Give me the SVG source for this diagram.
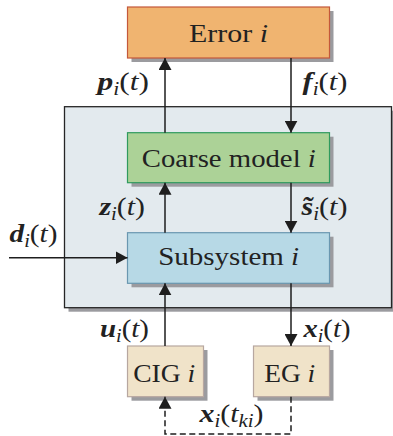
<svg xmlns="http://www.w3.org/2000/svg" width="393" height="436" viewBox="0 0 393 436">
<defs>
<style>
text{font-family:"Liberation Serif","Times New Roman",serif;fill:#222;}
.bt{font-size:26px;text-anchor:middle;}
.lb{font-size:26px;}
.it{font-style:italic;}
.bi{font-style:italic;font-weight:bold;}
.sub{font-size:18px;font-style:italic;font-weight:normal;}
.shadow{fill:#9b9b9f;}
.conn{stroke:#1e1e1e;stroke-width:1.5;fill:none;}
.dash{stroke-dasharray:6,3.5;}
</style>
<marker id="ah" markerUnits="userSpaceOnUse" markerWidth="13" markerHeight="13" refX="12" refY="6.5" orient="auto">
<path d="M0,0 L12,6.5 L0,13 Z" fill="#1e1e1e"/>
</marker>
</defs>
<rect width="393" height="436" fill="#ffffff"/>

<g id="container">
<rect x="68.5" y="110.7" width="330" height="201" class="shadow"/>
<rect x="64.5" y="106.7" width="327" height="201" fill="#e3eaee" stroke="#262626" stroke-width="1.3"/>
</g>

<g id="error">
<rect x="131.5" y="11" width="202" height="51" class="shadow"/>
<rect x="127.5" y="7" width="202" height="51" fill="#f0b470" stroke="#c4583a" stroke-width="1.2"/>
<text class="bt" x="228.5" y="42.3" textLength="79" lengthAdjust="spacingAndGlyphs">Error <tspan class="it">i</tspan></text>
</g>

<g id="coarse">
<rect x="131.5" y="136.7" width="202" height="50" class="shadow"/>
<rect x="127.5" y="132.7" width="202" height="50" fill="#acd297" stroke="#2f9a5e" stroke-width="1.2"/>
<text class="bt" x="228.8" y="167" textLength="174" lengthAdjust="spacingAndGlyphs">Coarse model <tspan class="it">i</tspan></text>
</g>

<g id="subsystem">
<rect x="131.5" y="236.7" width="202" height="50.6" class="shadow"/>
<rect x="127.5" y="232.7" width="202" height="50.6" fill="#b7d9e6" stroke="#6a97b0" stroke-width="1.2"/>
<text class="bt" x="228.7" y="265" textLength="141" lengthAdjust="spacingAndGlyphs">Subsystem <tspan class="it">i</tspan></text>
</g>

<g id="cig">
<rect x="131.5" y="350" width="76" height="50.7" class="shadow"/>
<rect x="127.5" y="346" width="76" height="50.7" fill="#f0e3c9" stroke="#b7a7a0" stroke-width="1.2"/>
<text class="bt" x="164.2" y="382.3" textLength="62" lengthAdjust="spacingAndGlyphs">CIG <tspan class="it">i</tspan></text>
</g>

<g id="eg">
<rect x="257.5" y="350" width="76" height="50.7" class="shadow"/>
<rect x="253.5" y="346" width="76" height="50.7" fill="#f0e3c9" stroke="#b7a7a0" stroke-width="1.2"/>
<text class="bt" x="289.7" y="382.3" textLength="51" lengthAdjust="spacingAndGlyphs">EG <tspan class="it">i</tspan></text>
</g>

<g id="connectors">
<path class="conn" d="M165,132.7 V58" marker-end="url(#ah)"/>
<path class="conn" d="M291,58 V132.7" marker-end="url(#ah)"/>
<path class="conn" d="M165,232.7 V182.7" marker-end="url(#ah)"/>
<path class="conn" d="M291,182.7 V232.7" marker-end="url(#ah)"/>
<path class="conn" d="M9,257.7 H127.5" marker-end="url(#ah)"/>
<path class="conn" d="M165,346 V283.3" marker-end="url(#ah)"/>
<path class="conn" d="M291,283.3 V346" marker-end="url(#ah)"/>
<path class="conn dash" d="M291,396.7 V434 H165 V396.7" marker-end="url(#ah)"/>
</g>

<g id="labels">
<text class="lb" x="97.5" y="90" textLength="51.5" lengthAdjust="spacingAndGlyphs"><tspan class="bi">p</tspan><tspan class="sub" dy="5">i</tspan><tspan dy="-5">(</tspan><tspan class="it">t</tspan>)</text>
<text class="lb" x="302.5" y="90" textLength="45" lengthAdjust="spacingAndGlyphs"><tspan class="bi">f</tspan><tspan class="sub" dy="5">i</tspan><tspan dy="-5">(</tspan><tspan class="it">t</tspan>)</text>
<text class="lb" x="99.5" y="215" textLength="45.5" lengthAdjust="spacingAndGlyphs"><tspan class="bi">z</tspan><tspan class="sub" dy="5">i</tspan><tspan dy="-5">(</tspan><tspan class="it">t</tspan>)</text>
<text class="lb" x="301.5" y="214.5" textLength="46" lengthAdjust="spacingAndGlyphs"><tspan class="bi">s̃</tspan><tspan class="sub" dy="5">i</tspan><tspan dy="-5">(</tspan><tspan class="it">t</tspan>)</text>
<text class="lb" x="9.5" y="241.5" textLength="48" lengthAdjust="spacingAndGlyphs"><tspan class="bi">d</tspan><tspan class="sub" dy="5">i</tspan><tspan dy="-5">(</tspan><tspan class="it">t</tspan>)</text>
<text class="lb" x="100" y="337.3" textLength="49" lengthAdjust="spacingAndGlyphs"><tspan class="bi">u</tspan><tspan class="sub" dy="5">i</tspan><tspan dy="-5">(</tspan><tspan class="it">t</tspan>)</text>
<text class="lb" x="303.5" y="337.3" textLength="47" lengthAdjust="spacingAndGlyphs"><tspan class="bi">x</tspan><tspan class="sub" dy="5">i</tspan><tspan dy="-5">(</tspan><tspan class="it">t</tspan>)</text>
<text class="lb" x="199.5" y="422" textLength="64" lengthAdjust="spacingAndGlyphs"><tspan class="bi">x</tspan><tspan class="sub" dy="5">i</tspan><tspan dy="-5">(</tspan><tspan class="it">t</tspan><tspan class="sub" dy="5">ki</tspan><tspan dy="-5">)</tspan></text>
</g>
</svg>
